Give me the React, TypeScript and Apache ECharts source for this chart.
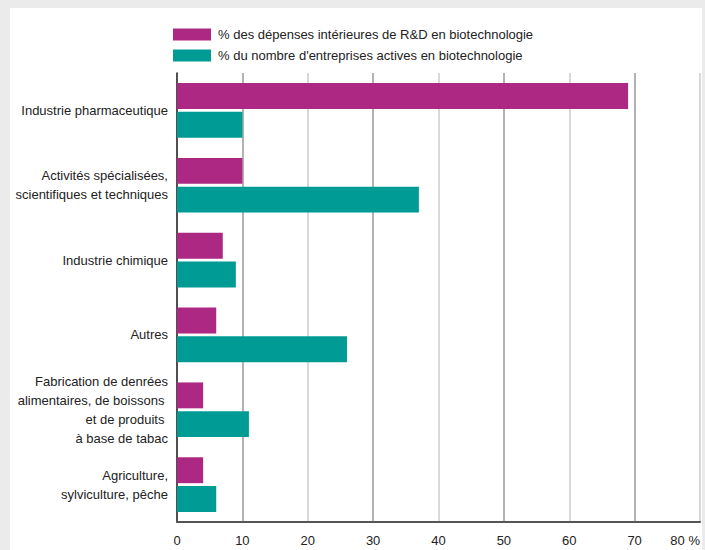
import React, { useEffect, useRef } from "react";
import * as echarts from "echarts";

const categories = [
  "Industrie pharmaceutique",
  "Activités spécialisées,\nscientifiques et techniques",
  "Industrie chimique",
  "Autres",
  "Fabrication de denrées\nalimentaires, de boissons \net de produits \nà base de tabac",
  "Agriculture,\nsylviculture, pêche",
];
const seriesNames = [
  "% des dépenses intérieures de R&D en biotechnologie",
  "% du nombre d'entreprises actives en biotechnologie",
];
const rdSpending = [69, 10, 7, 6, 4, 4];
const activeFirms = [10, 37, 9, 26, 11, 6];
const xTicks = [0, 10, 20, 30, 40, 50, 60, 70, 80];

const FONT = "Liberation Sans, Arial, sans-serif";

export default function App() {
  const ref = useRef<HTMLDivElement>(null);
  useEffect(() => {
    if (!ref.current) return;
    const chart = echarts.init(ref.current, undefined, { renderer: "svg" });
    chart.setOption({
      animation: false,
      textStyle: { fontFamily: FONT },
      legend: {
        orient: "vertical",
        left: 168,
        top: 23,
        itemWidth: 38,
        itemHeight: 12,
        itemGap: 8,
        icon: "rect",
        textStyle: { fontSize: 13, color: "#222", fontFamily: FONT, padding: [0, 0, 0, 2] },
        data: seriesNames,
      },
      grid: { left: 177, right: 5, top: 73, bottom: 28, containLabel: false },
      xAxis: {
        type: "value",
        min: 0,
        max: 80,
        interval: 10,
        axisLine: { show: true, lineStyle: { color: "#555", width: 2 } },
        axisTick: { show: false },
        axisLabel: {
          fontSize: 13,
          color: "#222",
          fontFamily: FONT,
          margin: 12,
          alignMaxLabel: "right",
          formatter: (v: number) => (v === xTicks[xTicks.length - 1] ? v + " %" : String(v)),
        },
        splitLine: { show: true, lineStyle: { color: ["#cccccc", "#9a9a9a"], width: 1.5 } },
      },
      yAxis: {
        type: "category",
        inverse: true,
        data: categories,
        axisLine: { show: true, lineStyle: { color: "#222", width: 1.5 } },
        axisTick: { show: false },
        axisLabel: { fontSize: 13, color: "#222", fontFamily: FONT, margin: 9, lineHeight: 19 },
      },
      series: [
        {
          name: seriesNames[0],
          type: "bar",
          data: rdSpending,
          itemStyle: { color: "#ac2883" },
          barGap: "11%",
          barCategoryGap: "27%",
        },
        {
          name: seriesNames[1],
          type: "bar",
          data: activeFirms,
          itemStyle: { color: "#009b95" },
          barGap: "11%",
          barCategoryGap: "27%",
        },
      ],
    });
    return () => chart.dispose();
  }, []);
  return (
    <div style={{ position: "absolute", left: 0, top: 0, width: 705, height: 550, background: "#ebebeb" }}>
      <div style={{ position: "absolute", left: 10, top: 8, width: 692, height: 542, background: "#fff" }} />
      <div ref={ref} style={{ position: "absolute", left: 0, top: 0, width: 705, height: 550 }} />
    </div>
  );
}
